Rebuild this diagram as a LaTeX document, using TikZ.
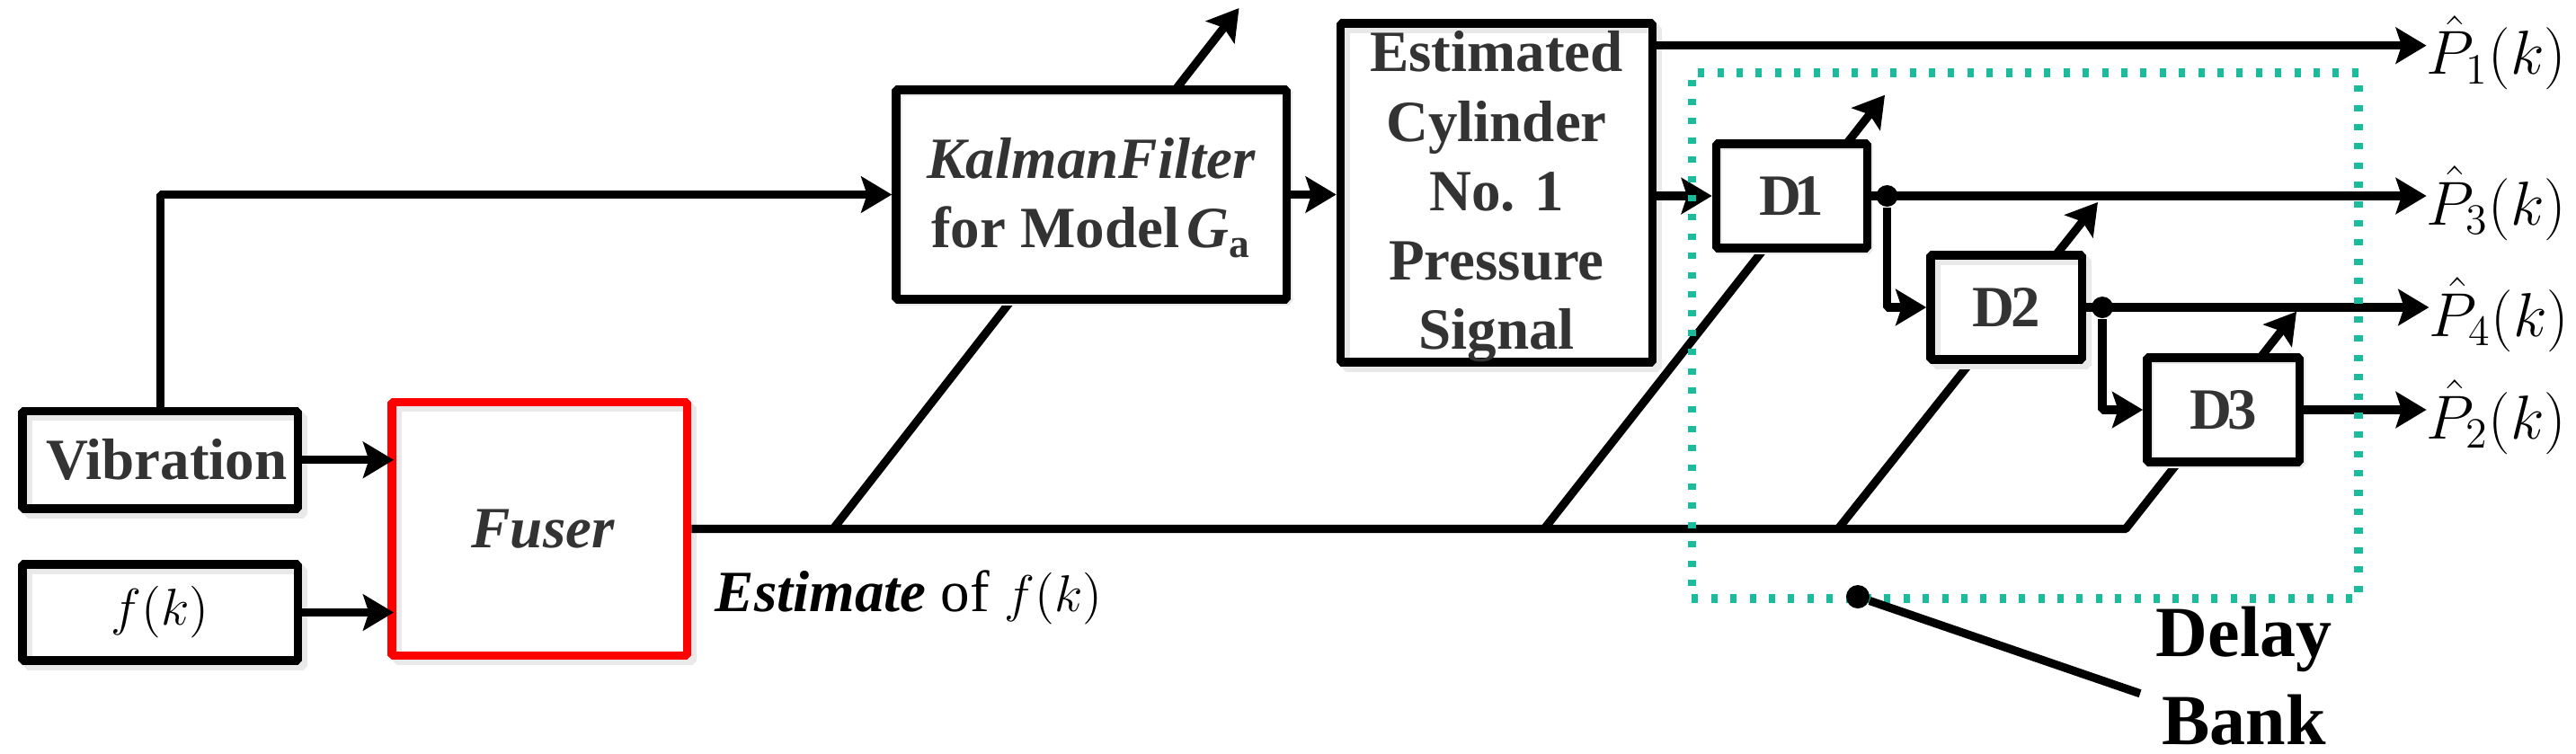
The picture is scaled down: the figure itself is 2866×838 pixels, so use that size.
\documentclass[tikz,border=0pt]{standalone}
\usepackage[no-math]{fontspec}
\setmainfont{Liberation Serif}
\usetikzlibrary{arrows.meta,shadows}
\definecolor{txtgray}{HTML}{333333}
\definecolor{shgray}{HTML}{E9E9E9}
\definecolor{bankteal}{HTML}{1ABC9C}
\tikzset{
  x=0.25pt, y=-0.25pt,
  wire/.style={line width=2.3pt, line join=bevel},
  sig/.style={wire, -{Stealth[length=8.5pt,width=10pt,inset=1.6pt]}},
  box/.style={rectangle, draw=black, line width=2.4pt, line join=bevel, inner sep=0pt,
    align=center, text=txtgray, font=\fontsize{16.25}{19.3}\selectfont\bfseries,
    preaction={fill=white},
    general shadow={draw=shgray, fill=none, shadow xshift=#1, shadow yshift=-#1}},
  box/.default=1.5pt,
  dot/.style={circle, fill=black, inner sep=0pt, minimum size=6pt},
  outlab/.style={anchor=west, inner sep=0pt, outer sep=0pt, xshift=1.9pt, text height=20pt, text depth=4pt,
    font=\fontsize{16.5}{19}\selectfont},
}
\begin{document}
\begin{tikzpicture}
  \useasboundingbox (0,0) rectangle (2866,838);

  \node [box, draw=red, minimum width=82.1pt, minimum height=70.5pt] at (600.25,588.5) (fus) {\hspace*{2pt}\textit{Fuser}};

  % bus taps and the slanted tuning arrows, boxes go over them
  \coordinate (t0) at (927,588.5);
  \coordinate (t1) at (1718,588.5);
  \coordinate (t2) at (2045,588.5);
  \coordinate (t3) at (2365,588.5);
  \coordinate (a0) at (1378.5,9);
  \coordinate (a1) at (2097,105.7);
  \coordinate (a2) at (2334,225);
  \coordinate (a3) at (2555,346.7);
  \draw [sig] (fus.east) -- (t3) -- (a3);
  \draw [sig] (t0) -- (a0);
  \draw [sig] (t1) -- (a1);
  \draw [sig] (t2) -- (a2);

  \node [box, minimum width=76.6pt, minimum height=27.1pt] at (178.25,511.75) (vib) {\hspace*{3.5pt}Vibration};
  \node [box, minimum width=76.6pt, minimum height=26.75pt, text=black, font=\fontsize{15}{18}\selectfont] at (178.25,681.5) (fk) {$f(k)$};
  \node [box=0.5pt, minimum width=108.6pt, minimum height=58.25pt] at (1214.25,216.5) (kal) {\rule{0pt}{13pt}\textit{KalmanFilter}\\for Model\kern2pt\textit{G}\textsubscript{a}};
  \node [box, minimum width=86.75pt, minimum height=93.75pt] at (1665,214.5) (cyl) {\rule{0pt}{13.5pt}Estimated\\Cylinder\\No. 1\\Pressure\\Signal};
  \node [box=0.5pt, minimum width=42pt, minimum height=29pt] at (1993.5,218) (d1) {D\kern-2pt 1};
  \node [box, minimum width=42.1pt, minimum height=29pt] at (2232.25,342) (d2) {D\kern-1.2pt 2};
  \node [box=0.5pt, minimum width=42.4pt, minimum height=29pt] at (2473.75,456) (d3) {D\kern-1.2pt 3};

  \node [outlab] at (2692,50.7) (p1) {$\hat{P}_1(k)$};
  \node [outlab] at (2692,218) (p3) {$\hat{P}_3(k)$};
  \node [outlab, xshift=0.7pt] at (2692,342) (p4) {$\hat{P}_4(k)$};
  \node [outlab] at (2692,456) (p2) {$\hat{P}_2(k)$};

  \node [dot] at (2099.5,218) (j1) {};
  \node [dot] at (2339,342) (j2) {};

  \node [anchor=base west, inner sep=0pt, font=\fontsize{16.25}{19}\selectfont] at (795,680) (est) {\textbf{\textit{Estimate}} of {\fontsize{15}{18}\selectfont $f(k)$}};
  \node [anchor=base west, inner sep=0pt, align=center, font=\fontsize{20}{24.5}\selectfont\bfseries] at (2398,828) (lab) {Delay\\Bank};

  % signal path
  \draw [sig] (vib.north) |- (kal.west);
  \draw [sig, shorten >=-1.7pt] (vib.east) -- (vib.east -| fus.west);
  \draw [sig, shorten >=-1.7pt] (fk.east) -- (fk.east -| fus.west);
  \draw [sig] (kal.east) -- (kal.east -| cyl.west);
  \draw [sig] (cyl.east |- d1.west) -- (d1.west);
  \draw [sig] (cyl.east |- p1.west) -- (p1.west);
  \draw [sig] (d1.east) -- (p3.west);
  \draw [sig] (d2.east) -- (p4.west);
  \draw [sig] (d3.east) -- (p2.west);
  \draw [sig] (j1) |- (d2.west);
  \draw [sig] (j2) |- (d3.west);

  % delay bank outline
  \node [rectangle, draw=bankteal, line width=2.4pt, dash pattern=on 1.75pt off 3.6pt, minimum width=185.4pt, minimum height=146.25pt, inner sep=0pt] at (2253.2,373.5) (bank) {};
  \node [dot, minimum size=6.5pt] at (2067,664) (b0) {};
  \coordinate (b1) at (2381,771.7);
  \draw [wire] (b0) -- (b1);
\end{tikzpicture}
\end{document}
